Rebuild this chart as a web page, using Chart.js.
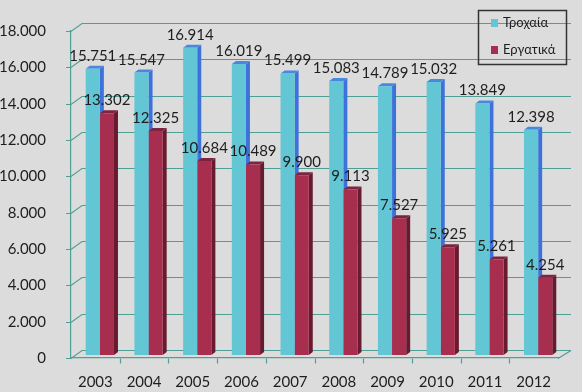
<!DOCTYPE html>
<html>
<head>
<meta charset="utf-8">
<script src="https://cdn.jsdelivr.net/npm/chart.js@4"></script>
<style>
  html, body { margin: 0; padding: 0; background: #dcdcdc; }
  #wrap { width: 582px; height: 392px; }
</style>
</head>
<body>
<div id="wrap"><canvas id="accChart" width="582" height="392"></canvas></div>
<script>
// Ατυχήματα ανά έτος
const years = ['2003', '2004', '2005', '2006', '2007', '2008', '2009', '2010', '2011', '2012'];
const trochaia = [15751, 15547, 16914, 16019, 15499, 15083, 14789, 15032, 13849, 12398];
const ergatika = [13302, 12325, 10684, 10489, 9900, 9113, 7527, 5925, 5261, 4254];
const yTicks = [0, 2000, 4000, 6000, 8000, 10000, 12000, 14000, 16000, 18000];

const seriesNames = ['Τροχαία', 'Εργατικά'];
const frontColors = ['#62c6d4', '#a82e50'];
const sideColors = ['#3d72dc', '#681a2e'];
const topColors = ['#4a88de', '#7c2440'];

const gridColor = '#4f9f96';
const FONT = 'Lato';

// 15751 -> "15.751"
function fmt(n) {
    return String(n).replace(/\B(?=(\d{3})+(?!\d))/g, '.');
}

// ψευδο-3Δ: πλέγμα στον πίσω τοίχο, πλευρές ράβδων, ετικέτες
const depth = { gx: 11, gy: -8, bx: 4.5, by: -3, sx: 4, sy: -3 };

const fake3d = {
    id: 'fake3d',
    beforeDatasetsDraw(chart) {
        const ctx = chart.ctx;
        const y = chart.scales.y;
        const x = chart.scales.x;
        const left = chart.chartArea.left;
        const right = chart.chartArea.right;

        ctx.save();
        ctx.strokeStyle = gridColor;
        ctx.lineWidth = 1.2;
        // γραμμές πλέγματος
        yTicks.forEach(v => {
            const py = Math.round(y.getPixelForValue(v)) + 0.5;
            ctx.beginPath();
            ctx.moveTo(left - 5, py);
            ctx.lineTo(left, py);
            ctx.lineTo(left + depth.gx, py + depth.gy);
            ctx.lineTo(right + depth.gx + 2, py + depth.gy);
            ctx.stroke();
        });
        // δάπεδο δεξιά
        const by = Math.round(y.getPixelForValue(0)) + 0.5;
        ctx.beginPath();
        ctx.moveTo(right, by);
        ctx.lineTo(right + depth.gx + 2, by + depth.gy);
        ctx.stroke();
        // μικρές γραμμές κατηγοριών
        for (let i = 1; i < years.length; i++) {
            const px = Math.round((x.getPixelForValue(i - 1) + x.getPixelForValue(i)) / 2) + 0.5;
            ctx.beginPath();
            ctx.moveTo(px, by);
            ctx.lineTo(px, by + 5);
            ctx.stroke();
        }
        ctx.restore();

        ctx.save();
        ctx.translate(depth.bx, depth.by);
        chart.data.datasets.forEach((ds, di) => {
            const meta = chart.getDatasetMeta(di);
            meta.data.forEach(bar => {
                const l = bar.x - bar.width / 2;
                const r = bar.x + bar.width / 2;
                // πλευρά
                ctx.fillStyle = sideColors[di];
                ctx.beginPath();
                ctx.moveTo(r, bar.y);
                ctx.lineTo(r + depth.sx, bar.y + depth.sy);
                ctx.lineTo(r + depth.sx, bar.base + depth.sy);
                ctx.lineTo(r, bar.base);
                ctx.closePath();
                ctx.fill();
                // κορυφή
                ctx.fillStyle = topColors[di];
                ctx.beginPath();
                ctx.moveTo(l, bar.y);
                ctx.lineTo(l + depth.sx, bar.y + depth.sy);
                ctx.lineTo(r + depth.sx, bar.y + depth.sy);
                ctx.lineTo(r, bar.y);
                ctx.closePath();
                ctx.fill();
            });
        });
    },
    afterDatasetsDraw(chart) {
        const ctx = chart.ctx;
        ctx.fillStyle = '#1e1e1e';
        ctx.font = '15px ' + FONT;
        ctx.textAlign = 'center';
        ctx.textBaseline = 'alphabetic';
        chart.data.datasets.forEach((ds, di) => {
            const meta = chart.getDatasetMeta(di);
            meta.data.forEach((bar, i) => {
                ctx.fillText(fmt(ds.data[i]), bar.x, bar.y - 8);
            });
        });
        ctx.restore();
    }
};

// υπόμνημα με πλαίσιο
const boxLegend = {
    id: 'boxLegend',
    afterDraw(chart) {
        const ctx = chart.ctx;
        ctx.save();
        ctx.strokeStyle = '#333333';
        ctx.lineWidth = 1.5;
        ctx.strokeRect(478.5, 10.5, 88, 54);
        ctx.font = '13px ' + FONT;
        ctx.textAlign = 'left';
        ctx.textBaseline = 'middle';
        chart.data.datasets.forEach((ds, i) => {
            const cy = 23 + i * 27;
            ctx.fillStyle = ds.backgroundColor;
            ctx.fillRect(491, cy - 4, 7, 8);
            ctx.fillStyle = '#1e1e1e';
            ctx.fillText(ds.label, 503, cy);
        });
        ctx.restore();
    }
};

const ctx = document.getElementById('accChart').getContext('2d');
new Chart(ctx, {
    type: 'bar',
    data: {
        labels: years,
        datasets: [
            { label: seriesNames[0], data: trochaia, backgroundColor: frontColors[0] },
            { label: seriesNames[1], data: ergatika, backgroundColor: frontColors[1] }
        ]
    },
    options: {
        responsive: false,
        animation: false,
        layout: { padding: { top: 31, right: 24, left: 0, bottom: 0 } },
        datasets: {
            bar: { categoryPercentage: 0.58, barPercentage: 1.0 }
        },
        scales: {
            x: {
                grid: { display: false },
                border: { display: true, color: gridColor, width: 1.2 },
                ticks: { color: '#1e1e1e', font: { family: FONT, size: 15 }, padding: 7, maxRotation: 0 },
                afterFit(scale) { scale.height = 34; }
            },
            y: {
                min: 0,
                max: 18000,
                grid: { display: false },
                border: { display: true, color: gridColor, width: 1.2 },
                ticks: {
                    stepSize: 2000,
                    color: '#1e1e1e',
                    font: { family: FONT, size: 15 },
                    padding: 17,
                    callback: v => fmt(v)
                },
                afterFit(scale) { scale.width = 71; }
            }
        },
        plugins: {
            legend: { display: false },
            tooltip: { enabled: false }
        }
    },
    plugins: [fake3d, boxLegend]
});
</script>
</body>
</html>
